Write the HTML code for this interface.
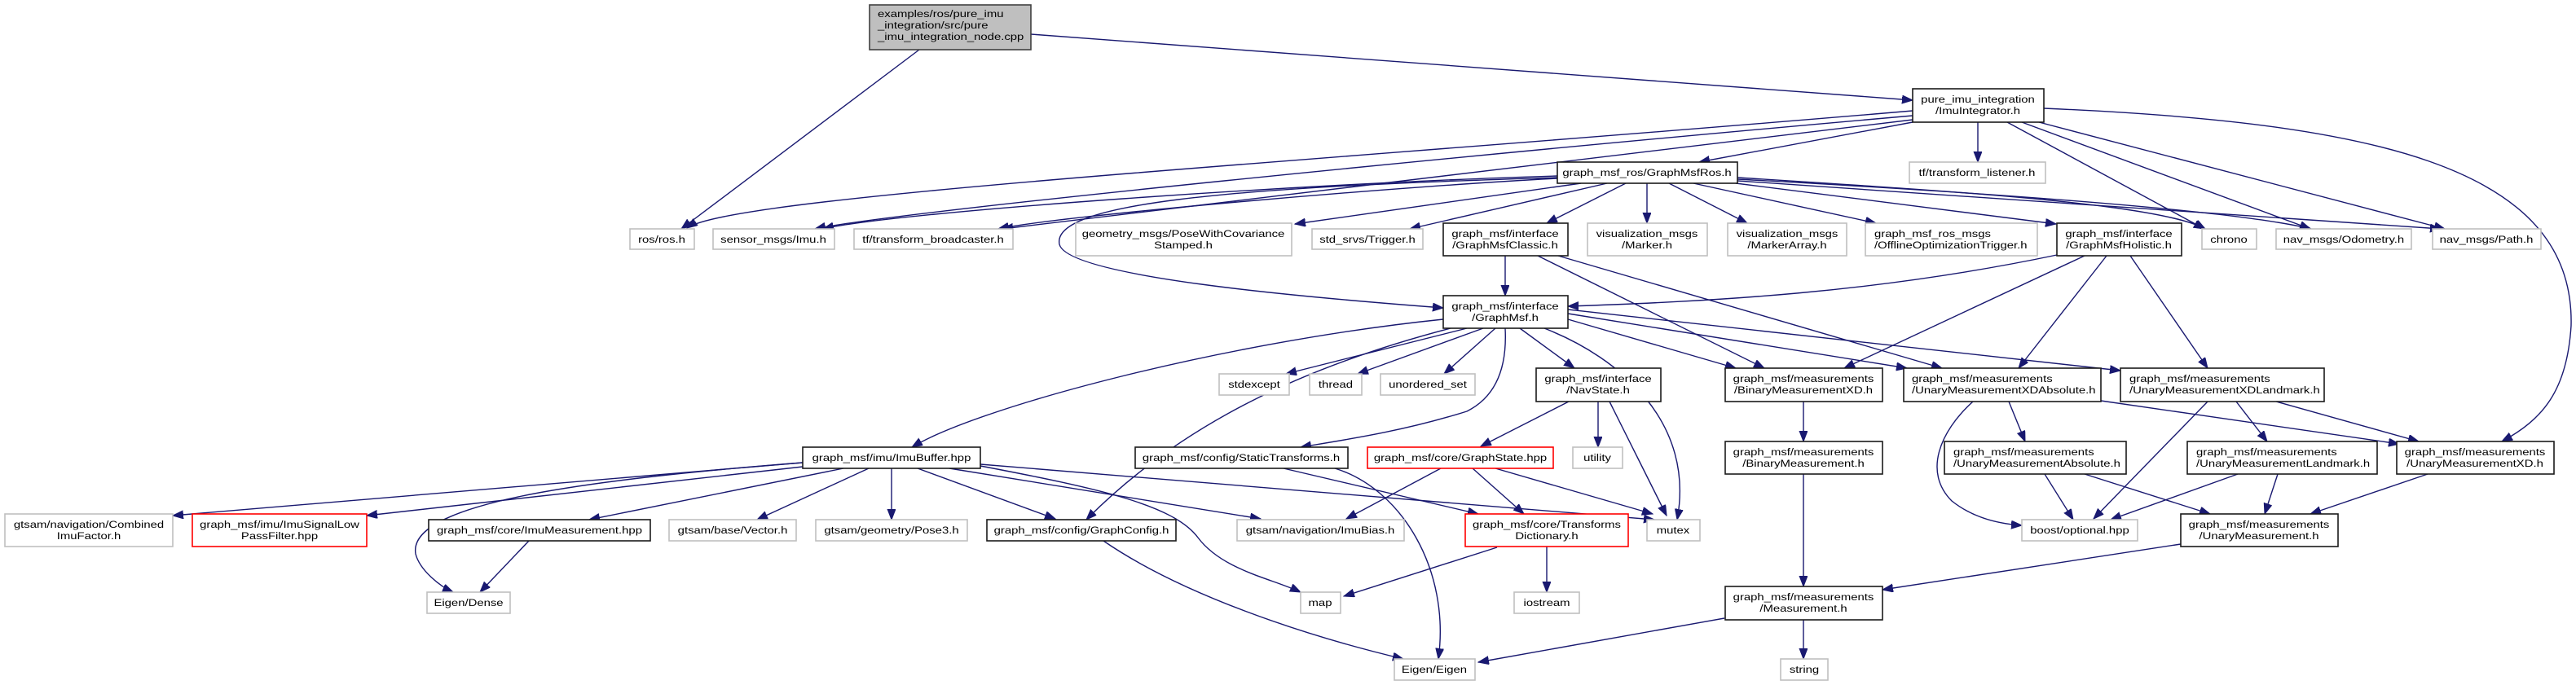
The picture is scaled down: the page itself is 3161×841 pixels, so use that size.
<!DOCTYPE html>
<html><head><meta charset="utf-8"><style>
html,body{margin:0;padding:0;background:#fff;}
svg{display:block}
.b{fill:#fff;stroke:#1a1a1a;stroke-width:1.6}
.g{fill:#fff;stroke:#c0c0c0;stroke-width:1.6}
.r{fill:#fff;stroke:#ff0000;stroke-width:1.6}
.m{fill:#bfbfbf;stroke:#404040;stroke-width:1.6}
text{font-family:"Liberation Sans",sans-serif;font-size:12px;fill:#000}
.e path{fill:none;stroke:#191970;stroke-width:1.4}
</style></head><body>
<svg width="3161" height="841" viewBox="0 0 3161 841" xmlns="http://www.w3.org/2000/svg">
<defs><marker id="a" markerUnits="userSpaceOnUse" markerWidth="14" markerHeight="12" refX="13" refY="5" orient="auto"><path d="M0,0 L13,5 L0,10 z" fill="#191970" stroke="#191970"/></marker></defs>
<g class="e" marker-end="url(#a)">
<path d="M1128,61 L836,281" marker-end="url(#a)"/>
<path d="M1265,42 L2347,123" marker-end="url(#a)"/>
<path d="M2347,136 C1600,200 900,240 843,280" marker-end="url(#a)"/>
<path d="M2347,142 C1800,190 1100,260 1000,281" marker-end="url(#a)"/>
<path d="M2347,147 L1230,281" marker-end="url(#a)"/>
<path d="M2347,150 L2085,199" marker-end="url(#a)"/>
<path d="M2427,150 L2427,199" marker-end="url(#a)"/>
<path d="M2463,150 L2705,281" marker-end="url(#a)"/>
<path d="M2481,150 L2835,281" marker-end="url(#a)"/>
<path d="M2502,150 L3000,281" marker-end="url(#a)"/>
<path d="M2508,133 C2900,150 3160,200 3155,400 C3150,480 3120,515 3070,542" marker-end="url(#a)"/>
<path d="M1911,216 C1600,225 1100,260 1010,281" marker-end="url(#a)"/>
<path d="M1911,219 C1700,230 1300,265 1225,281" marker-end="url(#a)"/>
<path d="M1940,225 L1589,275" marker-end="url(#a)"/>
<path d="M1972,225 L1730,281" marker-end="url(#a)"/>
<path d="M1995,225 L1898,274" marker-end="url(#a)"/>
<path d="M2021,225 L2021,274" marker-end="url(#a)"/>
<path d="M2048,225 L2144,274" marker-end="url(#a)"/>
<path d="M2078,225 L2302,274" marker-end="url(#a)"/>
<path d="M2130,225 L2523,275" marker-end="url(#a)"/>
<path d="M2132,218 C2400,235 2650,250 2706,281" marker-end="url(#a)"/>
<path d="M2132,220 C2500,240 2750,260 2836,281" marker-end="url(#a)"/>
<path d="M2132,222 L2995,281" marker-end="url(#a)"/>
<path d="M1911,218 C1500,230 1290,250 1300,300 C1310,340 1600,365 1771,378" marker-end="url(#a)"/>
<path d="M1847,314 L1847,363" marker-end="url(#a)"/>
<path d="M1887,314 L2165,452" marker-end="url(#a)"/>
<path d="M1912,314 L2383,452" marker-end="url(#a)"/>
<path d="M2524,313 C2300,360 2100,370 1924,376" marker-end="url(#a)"/>
<path d="M2558,314 L2263,452" marker-end="url(#a)"/>
<path d="M2585,314 L2477,452" marker-end="url(#a)"/>
<path d="M2614,314 L2709,452" marker-end="url(#a)"/>
<path d="M1771,392 C1500,420 1200,500 1119,549" marker-end="url(#a)"/>
<path d="M1780,403 C1600,450 1450,520 1333,638" marker-end="url(#a)"/>
<path d="M1847,403 C1850,460 1830,490 1800,505 C1720,530 1650,540 1596,549" marker-end="url(#a)"/>
<path d="M1800,403 L1578,459" marker-end="url(#a)"/>
<path d="M1820,403 L1666,459" marker-end="url(#a)"/>
<path d="M1835,403 L1772,459" marker-end="url(#a)"/>
<path d="M1865,403 L1932,452" marker-end="url(#a)"/>
<path d="M1895,403 C1990,440 2080,520 2058,638" marker-end="url(#a)"/>
<path d="M1924,392 L2130,452" marker-end="url(#a)"/>
<path d="M1924,385 L2340,452" marker-end="url(#a)"/>
<path d="M1924,380 L2602,455" marker-end="url(#a)"/>
<path d="M985,568 L212,633" marker-end="url(#a)"/>
<path d="M985,573 L450,633" marker-end="url(#a)"/>
<path d="M985,568 C700,590 500,620 510,680 C515,700 540,720 556,727" marker-end="url(#a)"/>
<path d="M1035,575 L723,638" marker-end="url(#a)"/>
<path d="M1066,575 L929,638" marker-end="url(#a)"/>
<path d="M1094,575 L1094,638" marker-end="url(#a)"/>
<path d="M1126,575 L1295,637" marker-end="url(#a)"/>
<path d="M1165,575 L1547,637" marker-end="url(#a)"/>
<path d="M1203,572 C1350,600 1440,620 1470,660 C1500,700 1560,710 1596,727" marker-end="url(#a)"/>
<path d="M1203,570 L2030,638" marker-end="url(#a)"/>
<path d="M649,664 L589,727" marker-end="url(#a)"/>
<path d="M1575,575 L1814,631" marker-end="url(#a)"/>
<path d="M1638,575 C1720,600 1780,700 1765,809" marker-end="url(#a)"/>
<path d="M1768,575 L1652,637" marker-end="url(#a)"/>
<path d="M1807,575 L1870,631" marker-end="url(#a)"/>
<path d="M1835,575 L2028,631" marker-end="url(#a)"/>
<path d="M1925,493 L1817,548" marker-end="url(#a)"/>
<path d="M1961,493 L1961,549" marker-end="url(#a)"/>
<path d="M1975,493 L2045,633" marker-end="url(#a)"/>
<path d="M1354,664 C1450,730 1600,780 1722,809" marker-end="url(#a)"/>
<path d="M1837,672 L1649,732" marker-end="url(#a)"/>
<path d="M1898,671 L1898,727" marker-end="url(#a)"/>
<path d="M2116,759 L1814,813" marker-end="url(#a)"/>
<path d="M2213,761 L2213,809" marker-end="url(#a)"/>
<path d="M2213,493 L2213,542" marker-end="url(#a)"/>
<path d="M2213,582 L2213,720" marker-end="url(#a)"/>
<path d="M2421,493 C2380,530 2360,580 2395,615 C2420,635 2450,643 2481,645" marker-end="url(#a)"/>
<path d="M2465,493 L2485,542" marker-end="url(#a)"/>
<path d="M2578,492 L2944,545" marker-end="url(#a)"/>
<path d="M2709,493 L2569,637" marker-end="url(#a)"/>
<path d="M2744,493 L2782,542" marker-end="url(#a)"/>
<path d="M2793,493 L2968,542" marker-end="url(#a)"/>
<path d="M2509,582 L2544,638" marker-end="url(#a)"/>
<path d="M2558,582 L2712,631" marker-end="url(#a)"/>
<path d="M2746,582 L2590,638" marker-end="url(#a)"/>
<path d="M2795,582 L2779,631" marker-end="url(#a)"/>
<path d="M2979,582 L2835,631" marker-end="url(#a)"/>
<path d="M2676,668 L2310,724" marker-end="url(#a)"/>
</g>
<g>
<rect class="m" x="1067" y="6" width="198" height="55"/>
<text transform="translate(1077,21) scale(1.24,1)"><tspan x="0">examples/ros/pure_imu</tspan><tspan x="0" dy="14">_integration/src/pure</tspan><tspan x="0" dy="14">_imu_integration_node.cpp</tspan></text>

<rect class="b" x="2347" y="109" width="161" height="41"/>
<text text-anchor="middle" transform="translate(2427,126) scale(1.24,1)"><tspan x="0">pure_imu_integration</tspan><tspan x="0" dy="14">/ImuIntegrator.h</tspan></text>

<rect class="b" x="1911" y="199" width="221" height="26"/>
<text text-anchor="middle" transform="translate(2021,216) scale(1.24,1)">graph_msf_ros/GraphMsfRos.h</text>
<rect class="g" x="2343" y="199" width="167" height="26"/>
<text text-anchor="middle" transform="translate(2426,216) scale(1.24,1)">tf/transform_listener.h</text>

<rect class="g" x="773" y="281" width="79" height="25"/>
<text text-anchor="middle" transform="translate(812,298) scale(1.24,1)">ros/ros.h</text>
<rect class="g" x="875" y="281" width="149" height="25"/>
<text text-anchor="middle" transform="translate(949,298) scale(1.24,1)">sensor_msgs/Imu.h</text>
<rect class="g" x="1048" y="281" width="195" height="25"/>
<text text-anchor="middle" transform="translate(1145,298) scale(1.24,1)">tf/transform_broadcaster.h</text>
<rect class="g" x="1320" y="274" width="265" height="40"/>
<text text-anchor="middle" transform="translate(1452,291) scale(1.24,1)"><tspan x="0">geometry_msgs/PoseWithCovariance</tspan><tspan x="0" dy="14">Stamped.h</tspan></text>
<rect class="g" x="1610" y="281" width="136" height="25"/>
<text text-anchor="middle" transform="translate(1678,298) scale(1.24,1)">std_srvs/Trigger.h</text>
<rect class="b" x="1771" y="274" width="153" height="40"/>
<text text-anchor="middle" transform="translate(1847,291) scale(1.24,1)"><tspan x="0">graph_msf/interface</tspan><tspan x="0" dy="14">/GraphMsfClassic.h</tspan></text>
<rect class="g" x="1948" y="274" width="147" height="40"/>
<text text-anchor="middle" transform="translate(2021,291) scale(1.24,1)"><tspan x="0">visualization_msgs</tspan><tspan x="0" dy="14">/Marker.h</tspan></text>
<rect class="g" x="2120" y="274" width="146" height="40"/>
<text text-anchor="middle" transform="translate(2193,291) scale(1.24,1)"><tspan x="0">visualization_msgs</tspan><tspan x="0" dy="14">/MarkerArray.h</tspan></text>
<rect class="g" x="2289" y="274" width="211" height="40"/>
<text transform="translate(2300,291) scale(1.24,1)"><tspan x="0">graph_msf_ros_msgs</tspan><tspan x="0" dy="14">/OfflineOptimizationTrigger.h</tspan></text>
<rect class="b" x="2524" y="274" width="153" height="40"/>
<text text-anchor="middle" transform="translate(2600,291) scale(1.24,1)"><tspan x="0">graph_msf/interface</tspan><tspan x="0" dy="14">/GraphMsfHolistic.h</tspan></text>
<rect class="g" x="2702" y="281" width="67" height="25"/>
<text text-anchor="middle" transform="translate(2735,298) scale(1.24,1)">chrono</text>
<rect class="g" x="2793" y="281" width="166" height="25"/>
<text text-anchor="middle" transform="translate(2876,298) scale(1.24,1)">nav_msgs/Odometry.h</text>
<rect class="g" x="2985" y="281" width="133" height="25"/>
<text text-anchor="middle" transform="translate(3051,298) scale(1.24,1)">nav_msgs/Path.h</text>

<rect class="b" x="1771" y="363" width="153" height="40"/>
<text text-anchor="middle" transform="translate(1847,380) scale(1.24,1)"><tspan x="0">graph_msf/interface</tspan><tspan x="0" dy="14">/GraphMsf.h</tspan></text>

<rect class="g" x="1496" y="459" width="86" height="26"/>
<text text-anchor="middle" transform="translate(1539,476) scale(1.24,1)">stdexcept</text>
<rect class="g" x="1607" y="459" width="64" height="26"/>
<text text-anchor="middle" transform="translate(1639,476) scale(1.24,1)">thread</text>
<rect class="g" x="1694" y="459" width="116" height="26"/>
<text text-anchor="middle" transform="translate(1752,476) scale(1.24,1)">unordered_set</text>
<rect class="b" x="1885" y="452" width="153" height="41"/>
<text text-anchor="middle" transform="translate(1961,469) scale(1.24,1)"><tspan x="0">graph_msf/interface</tspan><tspan x="0" dy="14">/NavState.h</tspan></text>
<rect class="b" x="2117" y="452" width="193" height="41"/>
<text text-anchor="middle" transform="translate(2213,469) scale(1.24,1)"><tspan x="0">graph_msf/measurements</tspan><tspan x="0" dy="14">/BinaryMeasurementXD.h</tspan></text>
<rect class="b" x="2336" y="452" width="242" height="41"/>
<text transform="translate(2346,469) scale(1.24,1)"><tspan x="0">graph_msf/measurements</tspan><tspan x="0" dy="14">/UnaryMeasurementXDAbsolute.h</tspan></text>
<rect class="b" x="2602" y="452" width="250" height="41"/>
<text transform="translate(2613,469) scale(1.24,1)"><tspan x="0">graph_msf/measurements</tspan><tspan x="0" dy="14">/UnaryMeasurementXDLandmark.h</tspan></text>

<rect class="b" x="985" y="549" width="218" height="26"/>
<text text-anchor="middle" transform="translate(1094,566) scale(1.24,1)">graph_msf/imu/ImuBuffer.hpp</text>
<rect class="b" x="1393" y="549" width="261" height="26"/>
<text text-anchor="middle" transform="translate(1523,566) scale(1.24,1)">graph_msf/config/StaticTransforms.h</text>
<rect class="r" x="1678" y="549" width="228" height="26"/>
<text text-anchor="middle" transform="translate(1792,566) scale(1.24,1)">graph_msf/core/GraphState.hpp</text>
<rect class="g" x="1930" y="549" width="61" height="26"/>
<text text-anchor="middle" transform="translate(1960,566) scale(1.24,1)">utility</text>
<rect class="b" x="2117" y="542" width="193" height="40"/>
<text text-anchor="middle" transform="translate(2213,559) scale(1.24,1)"><tspan x="0">graph_msf/measurements</tspan><tspan x="0" dy="14">/BinaryMeasurement.h</tspan></text>
<rect class="b" x="2386" y="542" width="223" height="40"/>
<text transform="translate(2397,559) scale(1.24,1)"><tspan x="0">graph_msf/measurements</tspan><tspan x="0" dy="14">/UnaryMeasurementAbsolute.h</tspan></text>
<rect class="b" x="2684" y="542" width="233" height="40"/>
<text transform="translate(2695,559) scale(1.24,1)"><tspan x="0">graph_msf/measurements</tspan><tspan x="0" dy="14">/UnaryMeasurementLandmark.h</tspan></text>
<rect class="b" x="2941" y="542" width="193" height="40"/>
<text text-anchor="middle" transform="translate(3037,559) scale(1.24,1)"><tspan x="0">graph_msf/measurements</tspan><tspan x="0" dy="14">/UnaryMeasurementXD.h</tspan></text>

<rect class="g" x="6" y="631" width="206" height="40"/>
<text text-anchor="middle" transform="translate(109,648) scale(1.24,1)"><tspan x="0">gtsam/navigation/Combined</tspan><tspan x="0" dy="14">ImuFactor.h</tspan></text>
<rect class="r" x="236" y="631" width="214" height="40"/>
<text text-anchor="middle" transform="translate(343,648) scale(1.24,1)"><tspan x="0">graph_msf/imu/ImuSignalLow</tspan><tspan x="0" dy="14">PassFilter.hpp</tspan></text>
<rect class="b" x="526" y="638" width="272" height="26"/>
<text text-anchor="middle" transform="translate(662,655) scale(1.24,1)">graph_msf/core/ImuMeasurement.hpp</text>
<rect class="g" x="821" y="638" width="156" height="26"/>
<text text-anchor="middle" transform="translate(899,655) scale(1.24,1)">gtsam/base/Vector.h</text>
<rect class="g" x="1001" y="638" width="186" height="26"/>
<text text-anchor="middle" transform="translate(1094,655) scale(1.24,1)">gtsam/geometry/Pose3.h</text>
<rect class="b" x="1211" y="638" width="232" height="26"/>
<text text-anchor="middle" transform="translate(1327,655) scale(1.24,1)">graph_msf/config/GraphConfig.h</text>
<rect class="g" x="1518" y="638" width="205" height="26"/>
<text text-anchor="middle" transform="translate(1620,655) scale(1.24,1)">gtsam/navigation/ImuBias.h</text>
<rect class="r" x="1798" y="631" width="200" height="40"/>
<text text-anchor="middle" transform="translate(1898,648) scale(1.24,1)"><tspan x="0">graph_msf/core/Transforms</tspan><tspan x="0" dy="14">Dictionary.h</tspan></text>
<rect class="g" x="2021" y="638" width="65" height="26"/>
<text text-anchor="middle" transform="translate(2053,655) scale(1.24,1)">mutex</text>
<rect class="g" x="2481" y="638" width="142" height="26"/>
<text text-anchor="middle" transform="translate(2552,655) scale(1.24,1)">boost/optional.hpp</text>
<rect class="b" x="2676" y="631" width="193" height="40"/>
<text text-anchor="middle" transform="translate(2772,648) scale(1.24,1)"><tspan x="0">graph_msf/measurements</tspan><tspan x="0" dy="14">/UnaryMeasurement.h</tspan></text>

<rect class="g" x="524" y="727" width="102" height="26"/>
<text text-anchor="middle" transform="translate(575,744) scale(1.24,1)">Eigen/Dense</text>
<rect class="g" x="1596" y="727" width="49" height="26"/>
<text text-anchor="middle" transform="translate(1620,744) scale(1.24,1)">map</text>
<rect class="g" x="1858" y="727" width="80" height="26"/>
<text text-anchor="middle" transform="translate(1898,744) scale(1.24,1)">iostream</text>
<rect class="b" x="2117" y="720" width="193" height="41"/>
<text text-anchor="middle" transform="translate(2213,737) scale(1.24,1)"><tspan x="0">graph_msf/measurements</tspan><tspan x="0" dy="14">/Measurement.h</tspan></text>
<rect class="g" x="1711" y="809" width="99" height="26"/>
<text text-anchor="middle" transform="translate(1760,826) scale(1.24,1)">Eigen/Eigen</text>
<rect class="g" x="2185" y="809" width="58" height="26"/>
<text text-anchor="middle" transform="translate(2214,826) scale(1.24,1)">string</text>
</g>
</svg>
</body></html>
